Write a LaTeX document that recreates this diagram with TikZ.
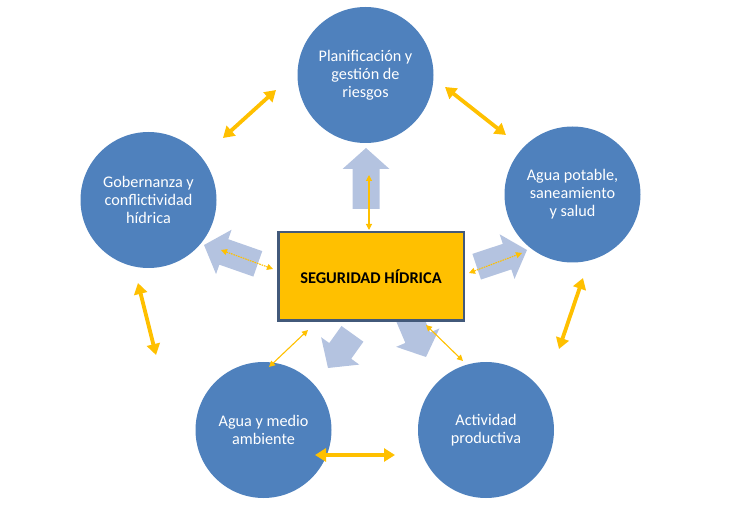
\documentclass[tikz,border=0pt]{standalone}
\usepackage{fontspec}
\setmainfont{Carlito}
\usetikzlibrary{arrows.meta}
\definecolor{circblue}{HTML}{4F81BD}
\definecolor{blockblue}{HTML}{B4C3E0}
\definecolor{gold}{HTML}{FFC000}
\definecolor{rectborder}{HTML}{42597A}
\tikzset{
  topic/.style={circle, fill=circblue, minimum size=136pt, inner sep=0pt, text=white, align=center, font=\fontsize{16.2}{18}\selectfont},
  core/.style={draw=rectborder, line width=2.5pt, fill=gold, minimum width=185.5pt, minimum height=88.5pt, inner sep=0pt, font=\bfseries\fontsize{16.4}{18}\selectfont},
  thicklink/.style={gold, line width=3.8pt, {Triangle[length=11pt,width=13pt]}-{Triangle[length=11pt,width=13pt]}},
  thinlink/.style={gold, line width=1.1pt, {Triangle[length=6pt,width=6pt]}-{Triangle[length=6pt,width=6pt]}},
  dottedlink/.style={thinlink, dash pattern=on 1.6pt off 0.9pt},
  blockshape/.style={fill=blockblue},
}
\newcommand\myblockarrow[4]{%
  \fill[blockshape, shift={(#1,#2)}, rotate=#3] (0,0) -- (-21,23.5) -- (-21,13.5) -- (-21-#4,13.5) -- (-21-#4,-13.5) -- (-21,-13.5) -- (-21,-23.5) -- cycle;}
\begin{document}
\begin{tikzpicture}[x=1pt, y=-1pt]
\useasboundingbox (0,0) rectangle (737,513);
% block arrows (behind the box)
\myblockarrow{366}{148}{90}{40}
\myblockarrow{204}{245}{160.7}{36}
\myblockarrow{527}{250}{18.4}{32}
\myblockarrow{328}{368}{234.4}{21}
\myblockarrow{426}{357}{-67}{36}
% central box
\node[core] (core) at (371,276.5) {SEGURIDAD HÍDRICA};
% circles
\node[topic] (plan) at (365.5,75) {Planificación y\\gestión de\\riesgos};
\node[topic] (gob) at (148.5,200) {Gobernanza y\\conflictividad\\hídrica};
\node[topic] (agua) at (572.5,194.5) {Agua potable,\\saneamiento\\y salud};
\node[topic] (medio) at (263.5,430) {Agua y medio\\ambiente};
\node[topic] (prod) at (486,430) {Actividad\\productiva};
% thick links between circles
\coordinate (tl1) at (223,138); \coordinate (tl2) at (276,90);
\coordinate (tr1) at (445,87); \coordinate (tr2) at (506,135);
\coordinate (l1) at (138,283); \coordinate (l2) at (156,355);
\coordinate (r1) at (583,278); \coordinate (r2) at (559,349);
\coordinate (b1) at (315,455); \coordinate (b2) at (395,455);
\draw[thicklink] (tl1) -- (tl2);
\draw[thicklink] (tr1) -- (tr2);
\draw[thicklink] (l1) -- (l2);
\draw[thicklink] (r1) -- (r2);
\draw[thicklink] (b1) -- (b2);
% thin links with the box
\coordinate (t1) at (369,175); \coordinate (t2) at (369,230);
\coordinate (le1) at (221,250); \coordinate (le2) at (273,269);
\coordinate (ri1) at (469,273); \coordinate (ri2) at (522,253);
\coordinate (bl1) at (308,330); \coordinate (bl2) at (269,367);
\coordinate (br1) at (426,325); \coordinate (br2) at (463,361);
\draw[thinlink] (t1) -- (t2);
\draw[dottedlink] (le1) -- (le2);
\draw[dottedlink] (ri1) -- (ri2);
\draw[thinlink] (bl1) -- (bl2);
\draw[thinlink] (br1) -- (br2);
\end{tikzpicture}
\end{document}
